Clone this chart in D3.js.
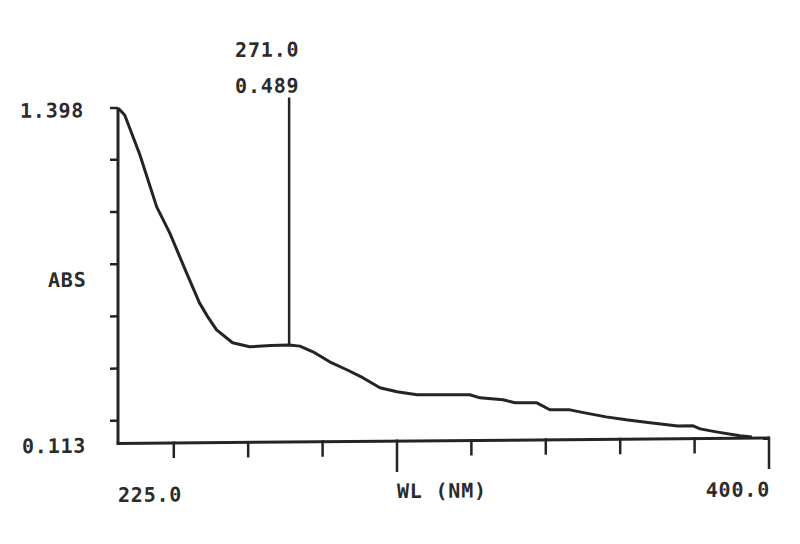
<!DOCTYPE html>
<html>
<head>
<meta charset="utf-8">
<script src="https://cdn.jsdelivr.net/npm/d3@7"></script>
<style>
  html, body { margin: 0; padding: 0; background: #ffffff; }
  svg { display: block; }
  text { font-family: "DejaVu Sans Mono", "Liberation Mono", monospace; font-weight: bold; fill: #2b2b2b; }
</style>
</head>
<body>
<svg id="chart" width="800" height="544"></svg>
<script>
// ---- data ----
const wavelength = [225, 226.8, 230.9, 235.4, 238.9, 243.4, 246.9, 249.1, 251.5, 255.8, 260.4, 266, 271, 273.9, 277.4, 281.9, 286.5, 290.8, 295.4, 300, 305.4, 319.6, 322.3, 328.5, 331.7, 337.6, 341.1, 346.5, 350.5, 356.2, 361.6, 368, 375.5, 379.6, 381.5, 385.8, 392.2, 395.4];
const absorbance = [1.398, 1.371, 1.217, 1.018, 0.918, 0.765, 0.649, 0.596, 0.545, 0.495, 0.479, 0.483, 0.485, 0.480, 0.458, 0.419, 0.388, 0.357, 0.318, 0.302, 0.290, 0.288, 0.276, 0.268, 0.256, 0.255, 0.228, 0.227, 0.215, 0.199, 0.187, 0.175, 0.162, 0.162, 0.150, 0.138, 0.122, 0.117];
const xDomain = [225.0, 400.0];
const yDomain = [0.113, 1.398];
const xTickValues = [240, 260, 280, 300, 320, 340, 360, 380, 400];
const xLongTicks = [300, 400];
const yTickValues = [0.2, 0.4, 0.6, 0.8, 1.0, 1.2, 1.398];
const xLabelLeft = "225.0";
const xLabelRight = "400.0";
const xTitle = "WL (NM)";
const yLabelTop = "1.398";
const yLabelBottom = "0.113";
const yTitle = "ABS";
const markerWL = 271.0;
const markerAbs = 0.489;
const markerTexts = ["271.0", "0.489"];

// ---- layout ----
const svg = d3.select("#chart");
const x = d3.scaleLinear().domain(xDomain).range([118, 769]);
const y = d3.scaleLinear().domain(yDomain).range([443.5, 108]);
const ink = "#242424";

// the original print is slightly tilted: emulate with a small shear
const g = svg.append("g")
  .attr("transform", `translate(118,443.5) skewY(-0.49) translate(-118,-443.5)`);

const fontSize = 20, ls = 0.8;
function label(txt, px, py, anchor) {
  return g.append("text")
    .attr("x", px).attr("y", py)
    .attr("text-anchor", anchor || "start")
    .style("font-size", fontSize + "px")
    .style("letter-spacing", ls + "px")
    .text(txt);
}

// axes
g.append("line")
  .attr("x1", x(xDomain[0])).attr("x2", x(xDomain[0]))
  .attr("y1", y(yDomain[1])).attr("y2", y(yDomain[0]))
  .attr("stroke", ink).attr("stroke-width", 3);
g.append("line")
  .attr("x1", x(xDomain[0]) - 1.5).attr("x2", x(xDomain[1]))
  .attr("y1", y(yDomain[0])).attr("y2", y(yDomain[0]))
  .attr("stroke", ink).attr("stroke-width", 3);

// x ticks
g.selectAll(".xt").data(xTickValues).enter().append("line")
  .attr("x1", d => x(d)).attr("x2", d => x(d))
  .attr("y1", y(yDomain[0]) - 1.5)
  .attr("y2", d => y(yDomain[0]) + (xLongTicks.includes(d) ? 31 : 15))
  .attr("stroke", ink).attr("stroke-width", 2.5);

// y ticks
g.selectAll(".yt").data(yTickValues).enter().append("line")
  .attr("x1", x(xDomain[0]) - 8).attr("x2", x(xDomain[0]))
  .attr("y1", d => y(d)).attr("y2", d => y(d))
  .attr("stroke", ink).attr("stroke-width", 2.5);

// spectrum
const pts = wavelength.map((w, i) => [w, absorbance[i]]);
g.append("path")
  .datum(pts)
  .attr("fill", "none")
  .attr("stroke", ink)
  .attr("stroke-width", 3)
  .attr("stroke-linejoin", "round")
  .attr("d", d3.line().x(d => x(d[0])).y(d => y(d[1])));

// peak marker
g.append("line")
  .attr("x1", x(markerWL)).attr("x2", x(markerWL))
  .attr("y1", 99).attr("y2", y(markerAbs) + 1)
  .attr("stroke", ink).attr("stroke-width", 2.5);
label(markerTexts[0], x(markerWL) - 54, 58);
label(markerTexts[1], x(markerWL) - 54, 94);

// axis labels
label(yLabelTop, 20, y(yDomain[1]) + 9);
label(yTitle, 48, 286.5);
label(yLabelBottom, 22, y(yDomain[0]) + 9);
label(xLabelLeft, x(xDomain[0]), 502);
label(xTitle, x(300), 500.5);
label(xLabelRight, x(xDomain[1]) + 1, 502, "end");
</script>
</body>
</html>
